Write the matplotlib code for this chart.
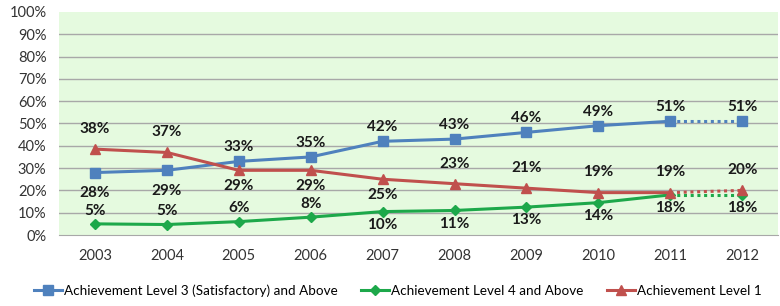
import matplotlib.pyplot as plt
from matplotlib.ticker import FuncFormatter

years = ['2003', '2004', '2005', '2006', '2007', '2008', '2009', '2010', '2011', '2012']
level3 = [28, 29, 33, 35, 42, 43, 46, 49, 51, 51]
level4 = [5, 4.7, 6, 8, 10.5, 11, 12.5, 14.5, 18, 18]
level1 = [38.5, 37, 29, 29, 25, 23, 21, 19, 19, 20]
level3_lbl = ['28%', '29%', '33%', '35%', '42%', '43%', '46%', '49%', '51%', '51%']
level4_lbl = ['5%', '5%', '6%', '8%', '10%', '11%', '13%', '14%', '18%', '18%']
level1_lbl = ['38%', '37%', '29%', '29%', '25%', '23%', '21%', '19%', '19%', '20%']
# label side: 1 above, -1 below
level3_side = [-1, -1, 1, 1, 1, 1, 1, 1, 1, 1]
level4_side = [1, 1, 1, 1, -1, -1, -1, -1, -1, -1]
level1_side = [1, 1, -1, -1, -1, 1, 1, 1, 1, 1]

plt.rcParams['font.family'] = ['Lato', 'DejaVu Sans']

blue = '#4F81BD'
green = '#1DA84A'
red = '#C0504D'

fig = plt.figure(figsize=(7.8, 3.06), dpi=100)
ax = fig.add_axes([0.0756, 0.232, 0.922, 0.729])
ax.set_facecolor('#E5FADF')
x = list(range(len(years)))

# (values, labels, sides, colour, marker, size, name, offset above, offset below)
series = [
    (level3, level3_lbl, level3_side, blue, 's', 7, 'Achievement Level 3 (Satisfactory) and Above', 5, 10),
    (level4, level4_lbl, level4_side, green, 'D', 5, 'Achievement Level 4 and Above', 4.5, 4.5),
    (level1, level1_lbl, level1_side, red, '^', 7, 'Achievement Level 1', 9.5, 6.5),
]

handles = []
for vals, lbls, sides, col, mk, ms, name, up, down in series:
    h, = ax.plot(x[:-1], vals[:-1], color=col, lw=2.2, marker=mk, ms=ms, label=name, zorder=3)
    ax.plot(x[-2:], vals[-2:], color=col, lw=2.2, ls=(0, (1, 1.2)), zorder=2)
    ax.plot(x[-1], vals[-1], color=col, marker=mk, ms=ms, ls='none', zorder=3)
    handles.append(h)
    for xi, v, t, s in zip(x, vals, lbls, sides):
        off = up if s > 0 else -down
        ax.annotate(t, (xi, v), xytext=(0, off), textcoords='offset points',
                    ha='center', va='bottom' if s > 0 else 'top',
                    fontsize=11, fontweight='bold', color='#1a1a1a', zorder=5)

ax.set_xlim(-0.5, len(years) - 0.5)
ax.set_ylim(0, 100)
ax.set_yticks(range(0, 101, 10))
ax.yaxis.set_major_formatter(FuncFormatter(lambda v, p: f'{int(v)}%'))
ax.set_xticks(x)
ax.set_xticklabels(years)
ax.tick_params(length=0, labelsize=10.5, colors='#333333')
ax.tick_params(axis='x', pad=10)
ax.tick_params(axis='y', pad=9)
for yv in range(10, 100, 10):
    ax.axhline(yv, color='#A8A8A8', lw=1, zorder=1)
for sp in ['top', 'right', 'left']:
    ax.spines[sp].set_visible(False)
ax.spines['bottom'].set_color('#A8A8A8')

fig.legend(handles=handles, loc='lower center', ncol=3, frameon=False,
           bbox_to_anchor=(0.51, -0.01), fontsize=9.7, columnspacing=1.7,
           handlelength=2.1, handletextpad=0.15)

fig.savefig('out.png', dpi=100)
